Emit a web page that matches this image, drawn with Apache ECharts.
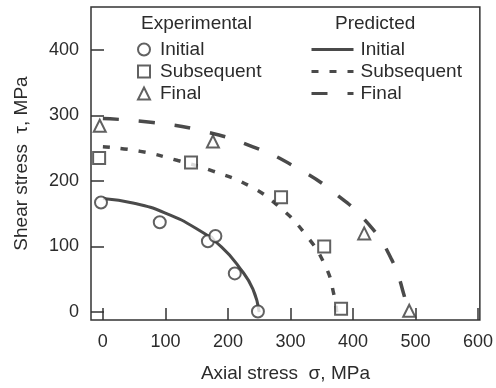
<!DOCTYPE html>
<html>
<head>
<meta charset="utf-8">
<script src="https://cdn.jsdelivr.net/npm/echarts@6/dist/echarts.min.js"></script>
<style>html,body{margin:0;padding:0;background:#fff}#c{width:496px;height:388px}</style>
</head>
<body>
<div id="c"></div>
<script>
// ---- data ----
const xTicks = [0, 100, 200, 300, 400, 500, 600];
const yTicks = [0, 100, 200, 300, 400];
const legendNames = ['Initial', 'Subsequent', 'Final'];
const expInitial = [[-3,167],[91,137],[168,108],[180,116],[211,59],[248,1]];
const expSubsequent = [[-6,235],[141,228],[285,175],[354,100],[381,5]];
const expFinal = [[-5,284],[176,260],[418,120],[490,2]];
const predInitial = [[0,173],[50,166],[100,151],[150,127],[190,99],[220,66],[240,35],[250,0]];
const predSubsequent = [[0,252],[60,245],[120,231],[176,215],[235,192],[280,162],[322,121],[356,70],[370,25],[374,0]];
const predFinal = [[0,295],[80,289],[160,276],[240,252],[310,220],[370,182],[425,134],[462,80],[482,25],[487,0]];

const FONT = 'Liberation Sans, Arial, sans-serif';
const INK = '#2b2b2b';
const LINE = '#4a4a4a';
const EXP = legendNames.map(n => n + ' ');

const chart = echarts.init(document.getElementById('c'));
chart.setOption({
  animation: false,
  backgroundColor: '#fff',
  textStyle: { fontFamily: FONT, color: INK },
  grid: { left: 91, right: 15, top: 7, bottom: 67, show: true, borderColor: '#333', borderWidth: 1.5 },
  graphic: [
    { type: 'text', left: 141, top: 14, style: { text: 'Experimental', font: '19px ' + FONT, fill: INK } },
    { type: 'text', left: 335, top: 14, style: { text: 'Predicted', font: '19px ' + FONT, fill: INK } }
  ],
  legend: [
    {
      orient: 'vertical', left: 132, top: 35, itemGap: 3, itemWidth: 12, itemHeight: 12,
      symbolKeepAspect: true,
      textStyle: { fontSize: 19, fontFamily: FONT, color: INK, padding: [0, 0, 0, 5] },
      data: EXP
    },
    {
      orient: 'vertical', left: 305, top: 35, itemGap: 3, itemWidth: 42, itemHeight: 12,
      textStyle: { fontSize: 19, fontFamily: FONT, color: INK, padding: [0, 0, 0, 2] },
      lineStyle: { width: 3 },
      itemStyle: { opacity: 0 },
      data: legendNames
    }
  ],
  xAxis: {
    type: 'value', min: -19, max: 603,
    name: 'Axial stress  σ, MPa', nameLocation: 'middle', nameGap: 44,
    nameTextStyle: { fontSize: 19, fontFamily: FONT, color: INK },
    axisLine: { show: false, onZero: false },
    axisTick: { show: true, inside: true, length: 12, customValues: xTicks, lineStyle: { color: '#333', width: 1.5 } },
    axisLabel: { customValues: xTicks, fontSize: 18, fontFamily: FONT, color: INK, margin: 13 },
    splitLine: { show: false }
  },
  yAxis: {
    type: 'value', min: -12, max: 465,
    name: 'Shear stress  τ, MPa', nameLocation: 'middle', nameGap: 60, nameRotate: 90,
    nameTextStyle: { fontSize: 19, fontFamily: FONT, color: INK },
    axisLine: { show: false, onZero: false },
    axisTick: { show: true, inside: true, length: 13, customValues: yTicks, lineStyle: { color: '#333', width: 1.5 } },
    axisLabel: { customValues: yTicks, fontSize: 18, fontFamily: FONT, color: INK, margin: 12 },
    splitLine: { show: false }
  },
  series: [
    { name: legendNames[0], type: 'line', data: predInitial, smooth: 0.5, showSymbol: false, symbol: 'none',
      lineStyle: { color: LINE, width: 3 }, itemStyle: { color: LINE } },
    { name: legendNames[1], type: 'line', data: predSubsequent, smooth: 0.5, showSymbol: false, symbol: 'none',
      lineStyle: { color: LINE, width: 3.5, type: [7, 11] }, itemStyle: { color: LINE } },
    { name: legendNames[2], type: 'line', data: predFinal, smooth: 0.5, showSymbol: false, symbol: 'none',
      lineStyle: { color: LINE, width: 3.5, type: [16, 20] }, itemStyle: { color: LINE } },
    { name: EXP[0], type: 'scatter', data: expInitial, symbol: 'circle', symbolSize: 12,
      itemStyle: { color: '#fff', borderColor: '#3a3a3a', borderWidth: 2 }, z: 5 },
    { name: EXP[1], type: 'scatter', data: expSubsequent, symbol: 'rect', symbolSize: 12,
      itemStyle: { color: '#fff', borderColor: '#3a3a3a', borderWidth: 2 }, z: 5 },
    { name: EXP[2], type: 'scatter', data: expFinal, symbol: 'triangle', symbolSize: 12,
      itemStyle: { color: '#fff', borderColor: '#3a3a3a', borderWidth: 2 }, z: 5 }
  ]
});
</script>
</body>
</html>
